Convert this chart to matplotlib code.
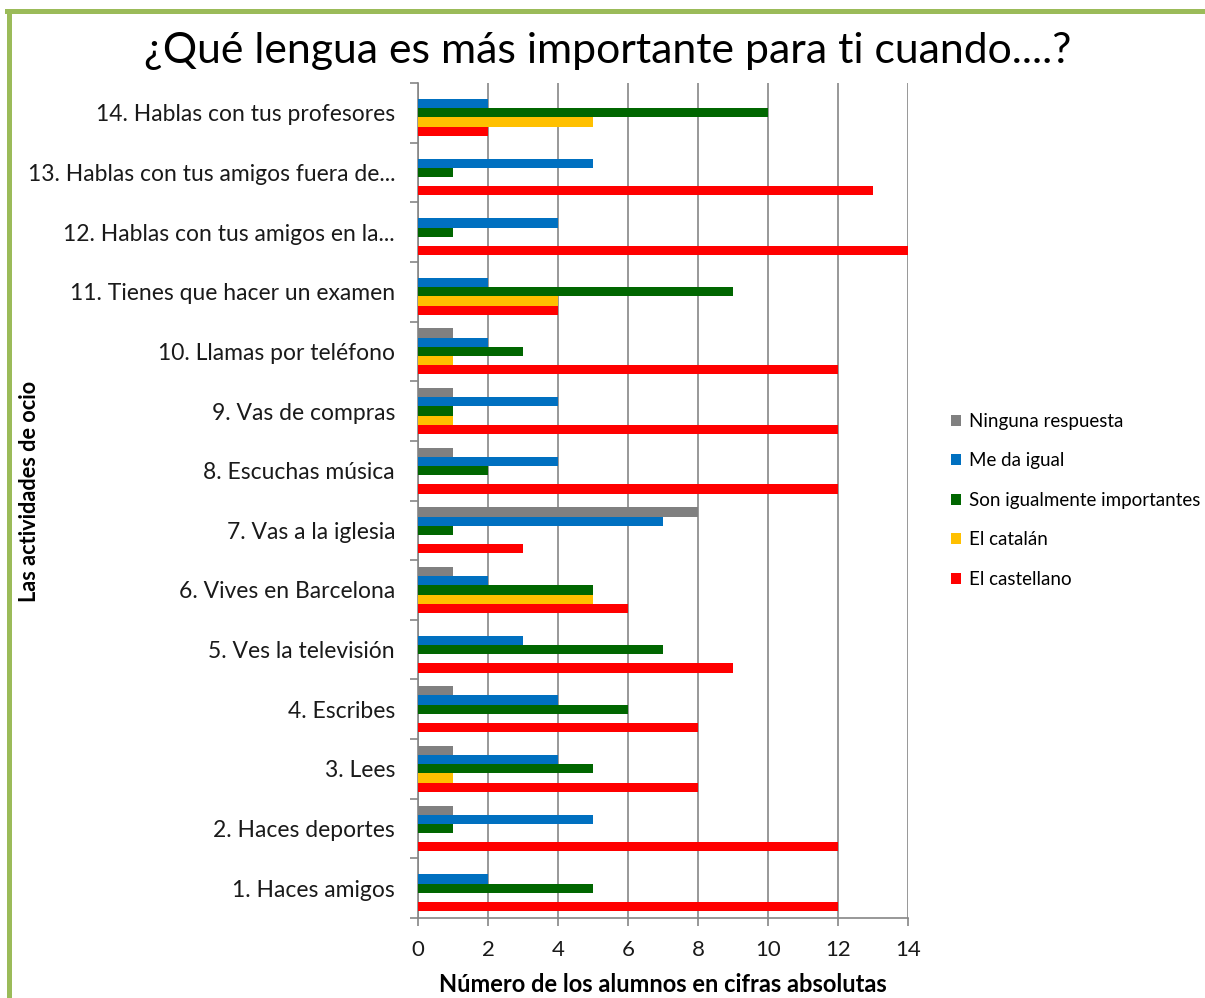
import numpy as np
import matplotlib
matplotlib.use("Agg")
import matplotlib.pyplot as plt
from matplotlib.lines import Line2D

plt.rcParams['font.family'] = ['Lato', 'DejaVu Sans']

# categories bottom -> top
actividades = ["1. Haces amigos", "2. Haces deportes", "3. Lees", "4. Escribes",
               "5. Ves la televisión", "6. Vives en Barcelona", "7. Vas a la iglesia",
               "8. Escuchas música", "9. Vas de compras", "10. Llamas por teléfono",
               "11. Tienes que hacer un examen", "12. Hablas con tus amigos en la...",
               "13. Hablas con tus amigos fuera de...", "14. Hablas con tus profesores"]

ninguna = [0, 1, 1, 1, 0, 1, 8, 1, 1, 1, 0, 0, 0, 0]
me_da_igual = [2, 5, 4, 4, 3, 2, 7, 4, 4, 2, 2, 4, 5, 2]
igualmente = [5, 1, 5, 6, 7, 5, 1, 2, 1, 3, 9, 1, 1, 10]
catalan = [0, 0, 1, 0, 0, 5, 0, 0, 1, 1, 4, 0, 0, 5]
castellano = [12, 12, 8, 8, 9, 6, 3, 12, 12, 12, 4, 14, 13, 2]

series = [("Ninguna respuesta", ninguna, "#808080"),
          ("Me da igual", me_da_igual, "#0070C0"),
          ("Son igualmente importantes", igualmente, "#006600"),
          ("El catalán", catalan, "#FFC000"),
          ("El castellano", castellano, "#FF0000")]

fig = plt.figure(figsize=(12.05, 9.98), dpi=100)
ax = fig.add_axes([418/1205, 1-918/998, 490/1205, 835/998])

y = np.arange(len(actividades))
h = 0.154
for k, (name, vals, col) in enumerate(series):
    ax.barh(y + (2 - k)*h, vals, height=h, color=col, label=name, zorder=3)

ax.set_xlim(0, 14)
ax.set_ylim(-0.5, len(actividades) - 0.5)
ax.set_xticks(np.arange(0, 15, 2))
ax.set_yticks(y)
ax.set_yticklabels(actividades)
ax.set_yticks(np.arange(-0.5, len(actividades), 1), minor=True)
ax.grid(axis='x', color='#868686', linewidth=1.2, zorder=0)

for s in ['top', 'right']:
    ax.spines[s].set_visible(False)
for s in ['left', 'bottom']:
    ax.spines[s].set_color('#868686')
    ax.spines[s].set_linewidth(1.2)

ax.tick_params(axis='y', which='major', length=0, pad=16.5, labelsize=16.5, labelcolor='#1a1a1a')
ax.tick_params(axis='y', which='minor', length=6, color='#868686', width=1.2)
ax.tick_params(axis='x', which='major', length=6, color='#868686', width=1.2,
               labelsize=16, labelcolor='#1a1a1a', pad=10)

ax.set_xlabel("Número de los alumnos en cifras absolutas", fontsize=17,
              fontweight='bold', labelpad=9)
fig.text(30/1205, 1-491/998, "Las actividades de ocio", rotation=90, fontsize=15.7,
         fontweight='bold', ha='center', va='center')
fig.text(608/1205, 1-51/998, "¿Qué lengua es más importante para ti cuando....?",
         fontsize=30.8, ha='center', va='center')

ax.legend(loc='upper left', bbox_to_anchor=(934/1205, 1-396/998),
          bbox_transform=fig.transFigure, frameon=False, fontsize=13.5,
          handlelength=0.55, handleheight=0.55, handletextpad=0.4,
          labelspacing=1.2)

# green frame (left and top)
fig.add_artist(Line2D([8.5/1205, 8.5/1205], [0, 1-11/998], color='#9BBB59',
                      linewidth=3.6, transform=fig.transFigure))
fig.add_artist(Line2D([6.5/1205, 1], [1-11/998, 1-11/998], color='#9BBB59',
                      linewidth=3.6, transform=fig.transFigure))

fig.savefig("out.png", dpi=100)
